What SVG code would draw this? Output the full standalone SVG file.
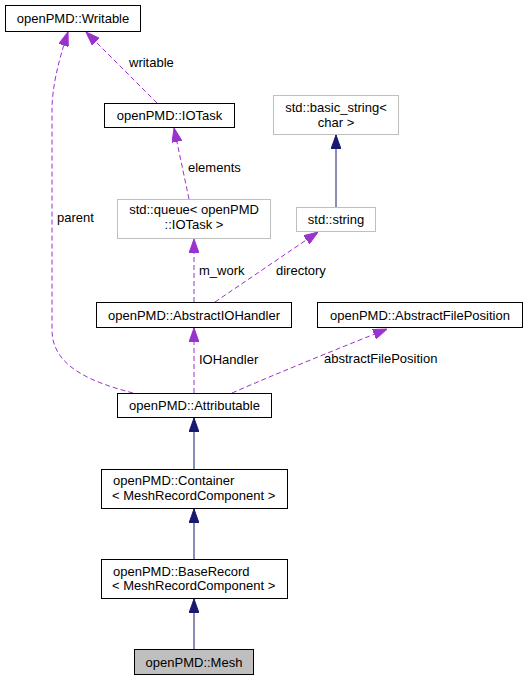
<svg xmlns="http://www.w3.org/2000/svg" width="528" height="681" viewBox="0 0 528 681">
<style>
  .box { fill: #ffffff; stroke: #000000; stroke-width: 1; }
  .gbox { fill: #ffffff; stroke: #bfbfbf; stroke-width: 1; }
  .cur { fill: #bfbfbf; stroke: #000000; stroke-width: 1; }
  text { font-family: "Liberation Sans", Arial, sans-serif; font-size: 13px; fill: #000000; }
  .c { text-anchor: middle; }
  .use { fill: none; stroke: #9a32cd; stroke-width: 1; stroke-dasharray: 5,3; marker-end: url(#ap); }
  .inh { fill: none; stroke: #191970; stroke-width: 1; marker-end: url(#an); }
</style>
<defs>
  <marker id="ap" viewBox="0 0 14 10" refX="14" refY="5" markerWidth="14" markerHeight="10" markerUnits="userSpaceOnUse" orient="auto">
    <path d="M0,0 L14,5 L0,10 z" fill="#9a32cd" stroke="#9a32cd"/>
  </marker>
  <marker id="an" viewBox="0 0 14 10" refX="14" refY="5" markerWidth="14" markerHeight="10" markerUnits="userSpaceOnUse" orient="auto">
    <path d="M0,0 L14,5 L0,10 z" fill="#191970" stroke="#191970"/>
  </marker>
</defs>
<rect width="528" height="681" fill="#ffffff"/>
<g id="connectors">
  <path class="use" d="M133,393 C95,383 52,368 52,330 L52,110 C52,88 58,62 68,32"/>
  <text x="57" y="222">parent</text>
  <path class="use" d="M157,103 L86,32"/>
  <text x="129" y="66.5">writable</text>
  <path class="use" d="M189,199 L174,128"/>
  <text x="188" y="171.5">elements</text>
  <path class="use" d="M194,302 L194,239"/>
  <text x="199" y="275">m_work</text>
  <path class="use" d="M215,302 L318,232"/>
  <text x="276" y="275">directory</text>
  <path class="inh" d="M336,207 L336,135"/>
  <path class="use" d="M194,393 L194,328"/>
  <text x="199" y="363.5">IOHandler</text>
  <path class="use" d="M232,393 C280,372 340,348 387,329"/>
  <text x="324" y="363">abstractFilePosition</text>
  <path class="inh" d="M194,469 L194,418"/>
  <path class="inh" d="M194,559 L194,509"/>
  <path class="inh" d="M194,649 L194,599"/>
</g>
<g id="node-writable">
  <rect class="box" x="5.5" y="5.5" width="135" height="26"/>
  <text class="c" x="73" y="23">openPMD::Writable</text>
</g>
<g id="node-iotask">
  <rect class="box" x="104.5" y="103.5" width="130" height="24"/>
  <text class="c" x="169.5" y="120">openPMD::IOTask</text>
</g>
<g id="node-basic-string">
  <rect class="gbox" x="273.5" y="95.5" width="125" height="39"/>
  <text class="c" x="336" y="111.5">std::basic_string&lt;</text>
  <text class="c" x="336" y="126.5">char &gt;</text>
</g>
<g id="node-queue">
  <rect class="gbox" x="117.5" y="199.5" width="153" height="39"/>
  <text class="c" x="194" y="214">std::queue&lt; openPMD</text>
  <text class="c" x="194" y="229">::IOTask &gt;</text>
</g>
<g id="node-string">
  <rect class="gbox" x="296.5" y="207.5" width="79" height="24"/>
  <text class="c" x="336" y="224">std::string</text>
</g>
<g id="node-abstractiohandler">
  <rect class="box" x="96.5" y="302.5" width="195" height="25"/>
  <text class="c" x="194" y="319.5">openPMD::AbstractIOHandler</text>
</g>
<g id="node-abstractfileposition">
  <rect class="box" x="317.5" y="302.5" width="205" height="25"/>
  <text class="c" x="420" y="319.5">openPMD::AbstractFilePosition</text>
</g>
<g id="node-attributable">
  <rect class="box" x="117.5" y="393.5" width="154" height="24"/>
  <text class="c" x="194.5" y="410">openPMD::Attributable</text>
</g>
<g id="node-container">
  <rect class="box" x="101.5" y="469.5" width="186" height="39"/>
  <text x="113" y="484.5">openPMD::Container</text>
  <text x="112" y="499.5">&lt; MeshRecordComponent &gt;</text>
</g>
<g id="node-baserecord">
  <rect class="box" x="101.5" y="559.5" width="186" height="39"/>
  <text x="113" y="575.5">openPMD::BaseRecord</text>
  <text x="112" y="589.5">&lt; MeshRecordComponent &gt;</text>
</g>
<g id="node-mesh">
  <rect class="cur" x="134.5" y="649.5" width="119" height="25"/>
  <text class="c" x="194" y="666.5">openPMD::Mesh</text>
</g>
</svg>
